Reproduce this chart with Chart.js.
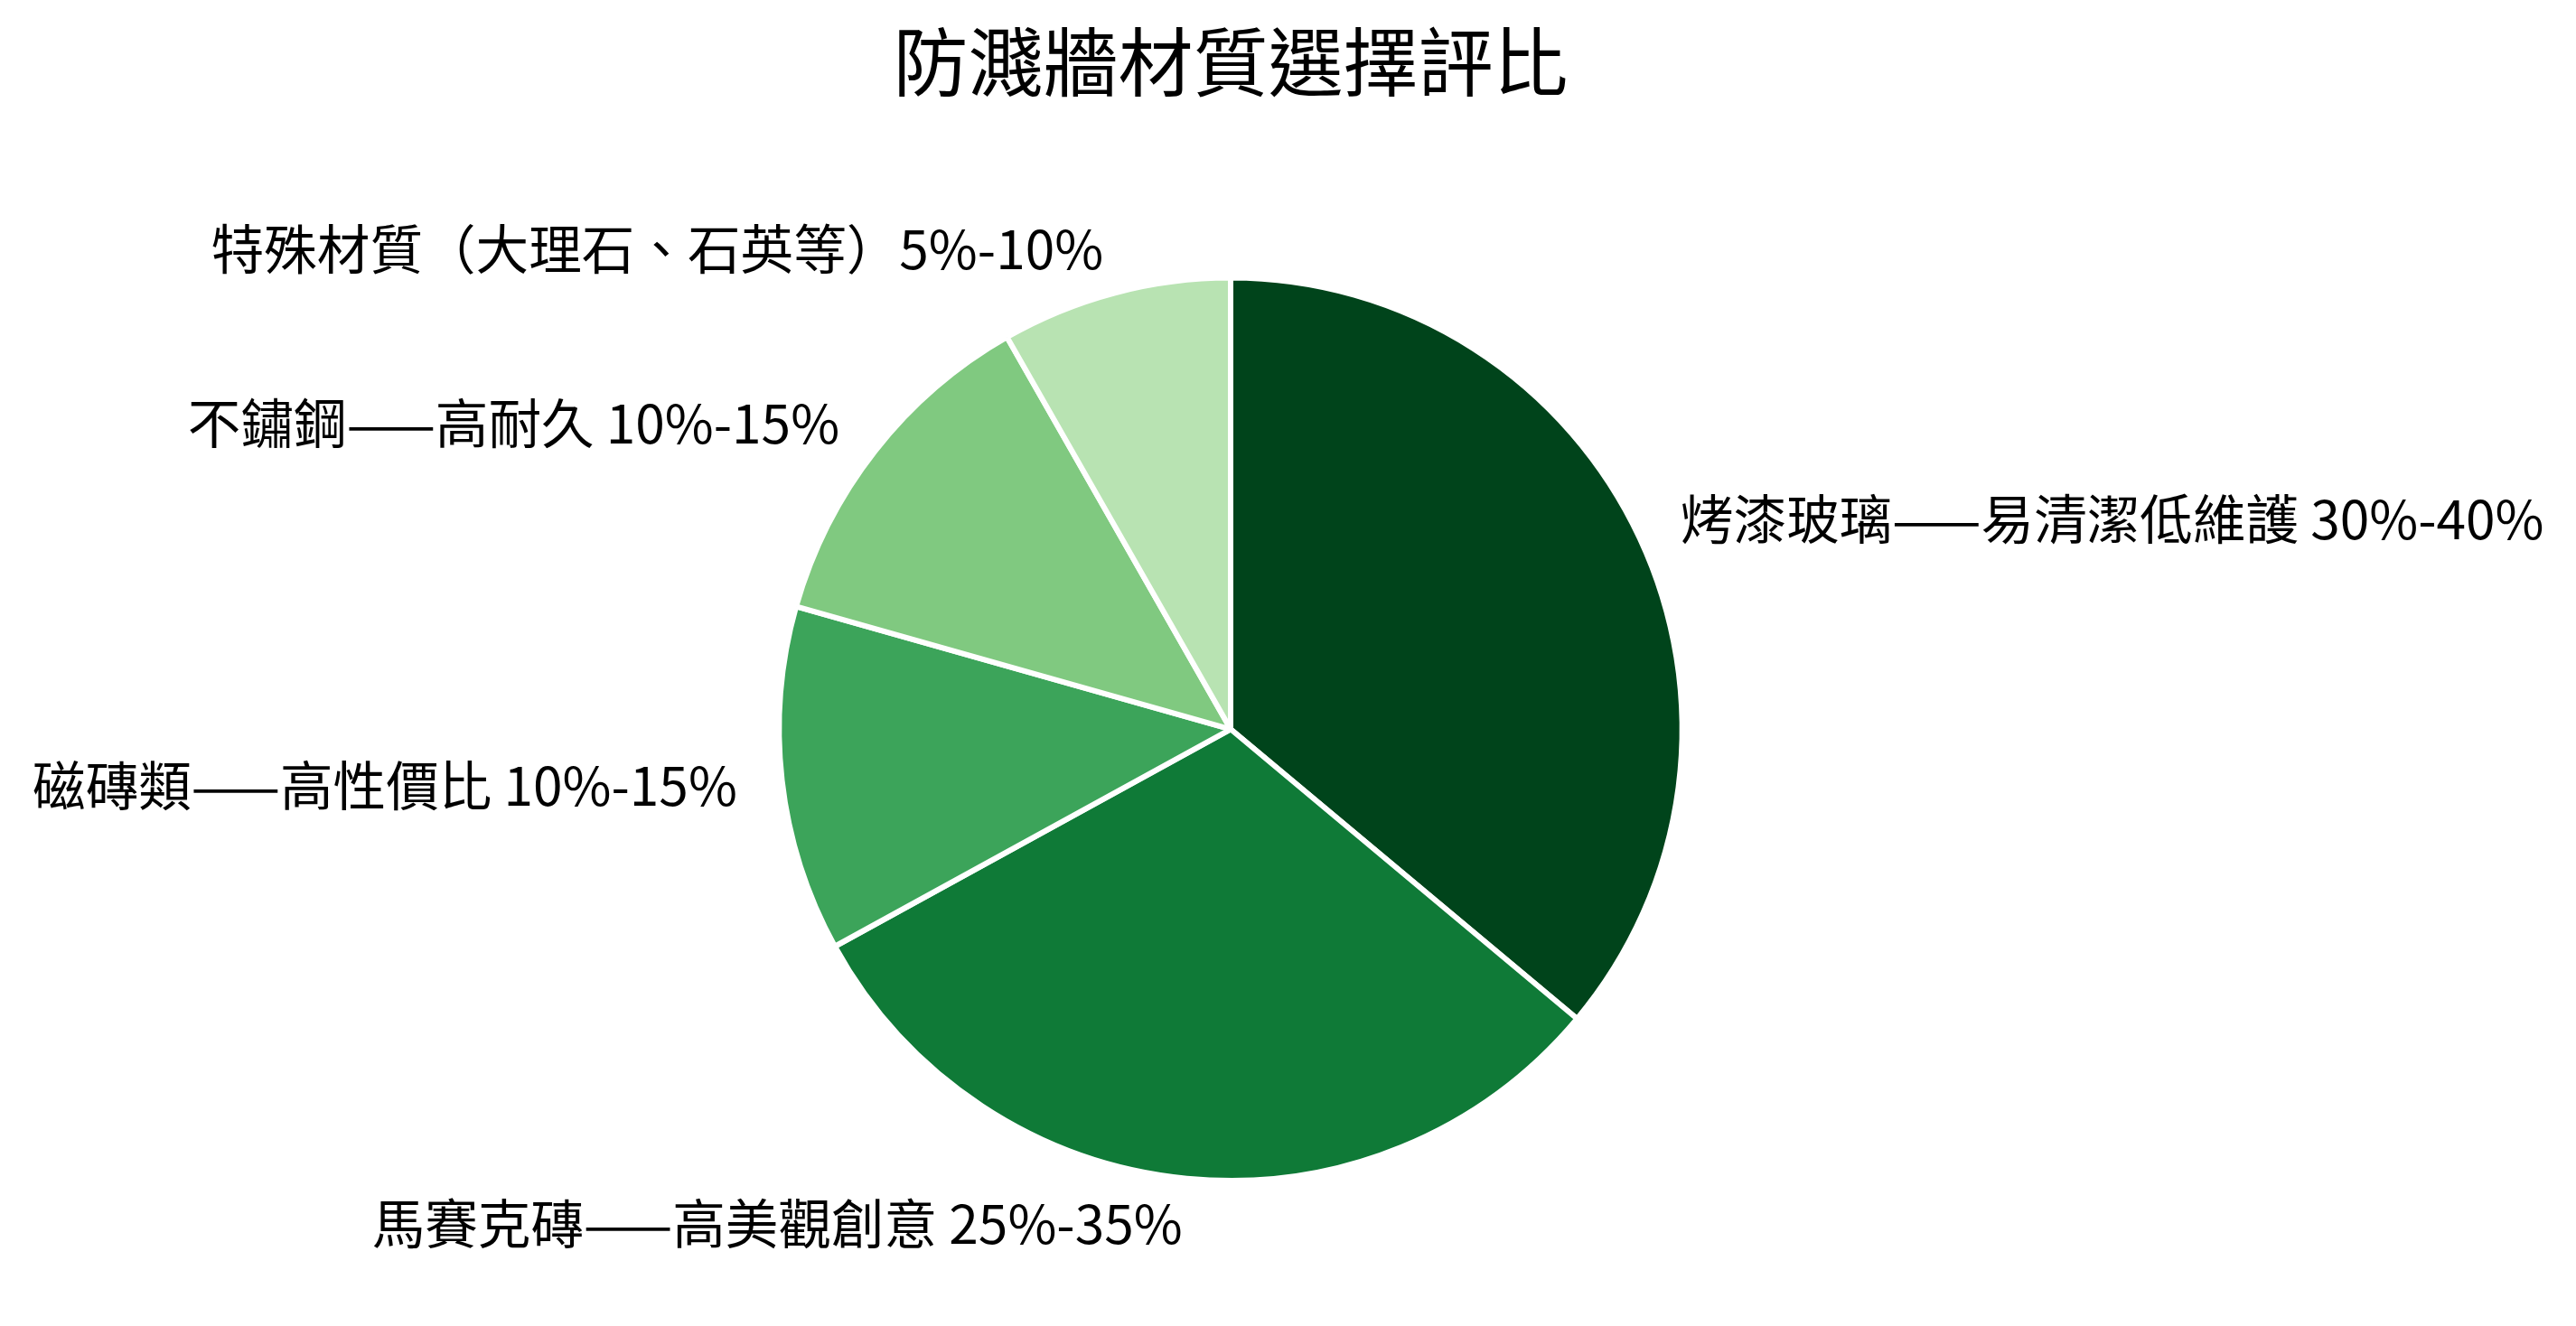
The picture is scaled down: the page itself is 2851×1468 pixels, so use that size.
<!DOCTYPE html>
<html>
<head>
<meta charset="utf-8">
<script src="https://cdn.jsdelivr.net/npm/chart.js@4"></script>
<style>
  html, body { margin: 0; padding: 0; background: #fff; }
  #wrap { width: 2851px; height: 1468px; }
</style>
</head>
<body>
<div id="wrap"><canvas id="grafico"></canvas></div>
<script>
// dados do gráfico
const categorias = [
  "烤漆玻璃——易清潔低維護 30%-40%",
  "馬賽克磚——高美觀創意 25%-35%",
  "磁磚類——高性價比 10%-15%",
  "不鏽鋼——高耐久 10%-15%",
  "特殊材質（大理石、石英等）5%-10%"
];
const valores = [35, 30, 12, 12, 8];
const cores = ["#00441b", "#0f7a37", "#3ca45a", "#80c980", "#b8e3b2"];
const titulo = "防濺牆材質選擇評比";

const fonte = "'Noto Sans CJK TC', 'Noto Sans CJK SC', 'Noto Sans', sans-serif";

// plugin para escrever os rótulos fora das fatias
const rotulosFora = {
  id: "rotulosFora",
  afterDatasetsDraw(chart) {
    const ctx = chart.ctx;
    const meta = chart.getDatasetMeta(0);
    ctx.save();
    ctx.font = "58.6px " + fonte;
    ctx.fillStyle = "#000";
    ctx.textBaseline = "middle";
    meta.data.forEach((arco, i) => {
      const p = arco.getProps(["x", "y", "startAngle", "endAngle", "outerRadius"], true);
      const meio = (p.startAngle + p.endAngle) / 2;
      const r = p.outerRadius * 1.1;
      const x = p.x + Math.cos(meio) * r;
      const y = p.y + Math.sin(meio) * r;
      ctx.textAlign = Math.cos(meio) >= 0 ? "left" : "right";
      ctx.fillText(categorias[i], x, y);
    });
    ctx.restore();
  }
};

new Chart(document.getElementById("grafico"), {
  type: "pie",
  data: {
    labels: categorias,
    datasets: [
      {
        data: valores,
        backgroundColor: cores,
        borderColor: "#ffffff",
        borderWidth: 6,
      },
    ],
  },
  options: {
    responsive: true,
    maintainAspectRatio: false,
    animation: false,
    layout: {
      padding: { top: 0, bottom: 158, left: 859, right: 986 },
    },
    plugins: {
      legend: { display: false },
      tooltip: { enabled: false },
      title: {
        display: true,
        text: titulo,
        color: "#000",
        font: { family: fonte, size: 83, weight: "normal", lineHeight: 1.2 },
        padding: { top: 19, bottom: 186 },
      },
    },
  },
  plugins: [rotulosFora],
});
</script>
</body>
</html>
